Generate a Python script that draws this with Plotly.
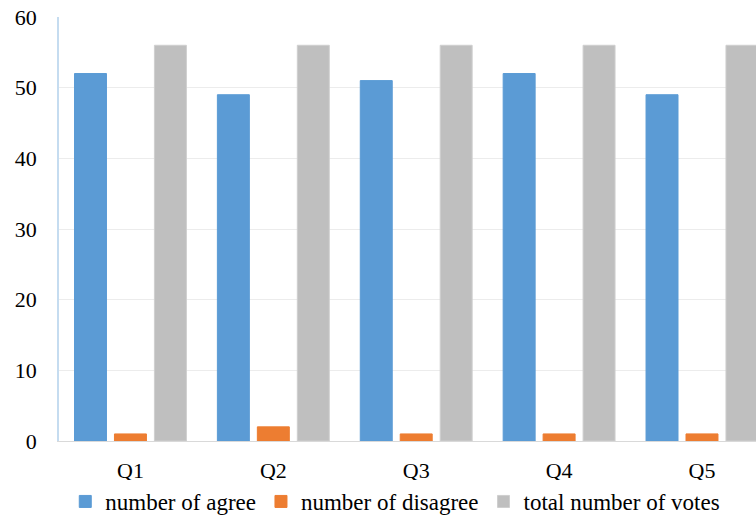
import plotly.graph_objects as go

questions = ["Q1", "Q2", "Q3", "Q4", "Q5"]
agree = [52, 49, 51, 52, 49]
disagree = [1, 2, 1, 1, 1]
total_votes = [56, 56, 56, 56, 56]

series = [
    ("number of agree", agree, "#5b9bd5", "#5b9bd5"),
    ("number of disagree", disagree, "#ed7d31", "#ed7d31"),
    ("total number of votes", total_votes, "#bfbfbf", "#cfcfcf"),
]

FONT = "Liberation Serif"
TICK = dict(family=FONT, size=22, color="black")
LEG = dict(family=FONT, size=23, color="black")

fig = go.Figure()
for name, vals, color, edge in series:
    fig.add_trace(go.Bar(
        x=questions, y=vals, name=name,
        marker=dict(color=color, line=dict(width=1, color=edge)),
    ))

fig.update_layout(
    width=756, height=517,
    margin=dict(l=59, r=0, t=17, b=76, autoexpand=False),
    paper_bgcolor="white", plot_bgcolor="white",
    barmode="group", bargap=0.161, bargroupgap=0.2,
    font=TICK,
    showlegend=True,
    legend=dict(
        orientation="h", x=0.009, xanchor="left",
        yref="container", y=0.03, yanchor="middle",
        font=LEG, traceorder="normal", itemwidth=30,
    ),
)

fig.update_xaxes(
    range=[-0.5, 4.378], showgrid=False, ticks="",
    showline=True, linecolor="#d9d9d9", linewidth=1,
    tickfont=TICK, ticklabelstandoff=10,
)
fig.update_yaxes(
    range=[0, 60], dtick=10, showgrid=True, gridcolor="#ececec", gridwidth=1,
    zeroline=False, showline=True, linecolor="#c5dcf0", linewidth=1.5,
    ticks="", ticklabelstandoff=16, tickfont=TICK,
)

fig.write_html("out.html")
